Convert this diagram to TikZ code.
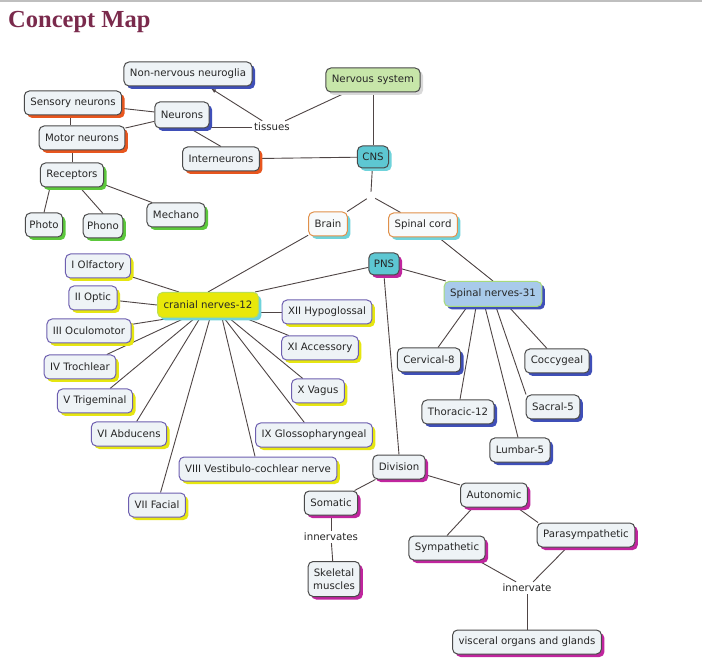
\documentclass[tikz,border=0pt]{standalone}
\usepackage{fontspec}
\setmainfont{Liberation Serif}
\newfontfamily\cmfont{DejaVu Sans}
\usetikzlibrary{shadows,arrows.meta}
\pgfdeclarelayer{background}
\pgfdeclarelayer{paper}
\pgfsetlayers{paper,background,main}
\definecolor{boxfill}{HTML}{EEF3F6}
\definecolor{bordergray}{HTML}{4A4A4A}
\definecolor{shblue}{HTML}{3F4FB8}
\definecolor{shorange}{HTML}{E8561E}
\definecolor{shgreen}{HTML}{5CC83C}
\definecolor{shyellow}{HTML}{E6E610}
\definecolor{shmagenta}{HTML}{C0259E}
\definecolor{shteal}{HTML}{6FD3DB}
\definecolor{purpleb}{HTML}{6E5FB0}
\definecolor{orangeb}{HTML}{E0904A}
\definecolor{nsgreen}{HTML}{C7E6A9}
\definecolor{cnsteal}{HTML}{5DC7D2}
\definecolor{snblue}{HTML}{A8CAEA}
\definecolor{sngreen}{HTML}{A7DA7A}
\definecolor{crnyellow}{HTML}{E8E80A}
\definecolor{titlered}{HTML}{7A2A4C}
\definecolor{linegray}{HTML}{4F4545}
\tikzset{
  cbox/.style={draw=bordergray, line width=1pt, rounded corners=5pt, fill=boxfill,
    font=\cmfont\fontsize{10.2}{11.5}\selectfont, text=black!85, inner xsep=6pt,
    minimum height=24pt, align=center},
  sd/.style={drop shadow={shadow xshift=3pt, shadow yshift=-3pt, opacity=1, fill=#1}},
  lbl/.style={font=\cmfont\fontsize{10.2}{11.5}\selectfont, text=black!85, inner sep=2pt},
  conn/.style={draw=linegray, line width=0.9pt},
}
\begin{document}
\begin{tikzpicture}[x=1pt,y=-1pt]
\useasboundingbox (0,0) rectangle (702,668);
\begin{pgfonlayer}{paper}
\fill[white] (0,0) rectangle (702,668);
\fill[black!25] (0,0) rectangle (702,2);
\end{pgfonlayer}
\node[anchor=base west, inner sep=0pt, text=titlered, font=\bfseries\fontsize{24.5}{27}\selectfont] (title) at (8,28) {Concept Map};

% top cluster
\node[cbox, sd=shblue] (NG) at (188,74) {Non-nervous neuroglia};
\node[cbox, fill=nsgreen, sd=black!15] (NS) at (373,80) {Nervous system};
\node[cbox, sd=shorange] (SensN) at (73,103) {Sensory neurons};
\node[cbox, sd=shblue, minimum height=26pt] (Neu) at (182,115) {Neurons};
\node[lbl] (tis) at (272,127) {tissues};
\node[cbox, sd=shorange] (MotN) at (82,138) {Motor neurons};
\node[cbox, sd=shorange] (IN) at (221,159) {Interneurons};
\node[cbox, fill=cnsteal, sd=shteal, minimum height=22pt, inner xsep=5pt] (CNS) at (373,157) {CNS};
\node[cbox, sd=shgreen] (Rec) at (72,175) {Receptors};
\node[cbox, sd=shgreen] (Mech) at (176,215) {Mechano};
\node[cbox, sd=shgreen, inner xsep=4pt] (Photo) at (44,225) {Photo};
\node[cbox, sd=shgreen, inner xsep=4pt] (Phono) at (103,226) {Phono};
\node[inner sep=0pt, minimum size=8pt] (J) at (371,196) {};
\node[cbox, draw=orangeb, fill=white!60!boxfill, sd=shteal] (Brain) at (328,224) {Brain};
\node[cbox, draw=orangeb, fill=white!60!boxfill, sd=shteal] (SC) at (423,225) {Spinal cord};

% PNS and cranial
\node[cbox, fill=cnsteal, sd=shmagenta, minimum height=22pt, inner xsep=5pt] (PNS) at (384,264) {PNS};
\node[cbox, draw=sngreen, fill=snblue, sd=shblue, minimum height=25pt] (SN) at (493,294) {Spinal nerves-31};
\node[cbox, draw=sngreen!70!crnyellow, fill=crnyellow, sd=shteal, minimum height=25pt] (CRN) at (208,305) {cranial nerves-12};

\tikzset{cr/.style={cbox, draw=purpleb, sd=shyellow}}
\node[cr] (I) at (98,266) {I Olfactory};
\node[cr] (II) at (93,298) {II Optic};
\node[cr] (III) at (89,331) {III Oculomotor};
\node[cr] (IV) at (80,367) {IV Trochlear};
\node[cr] (V) at (95,401) {V Trigeminal};
\node[cr] (VI) at (129,434) {VI Abducens};
\node[cr] (VII) at (157,505) {VII Facial};
\node[cr] (VIII) at (258,469) {VIII Vestibulo-cochlear nerve};
\node[cr] (IX) at (314,435) {IX Glossopharyngeal};
\node[cr] (X) at (318,391) {X Vagus};
\node[cr] (XI) at (320,348) {XI Accessory};
\node[cr] (XII) at (327,312) {XII Hypoglossal};

\tikzset{sp/.style={cbox, sd=shblue}}
\node[sp] (Cerv) at (429,360) {Cervical-8};
\node[sp] (Cocc) at (557,361) {Coccygeal};
\node[sp] (Thor) at (458,412) {Thoracic-12};
\node[sp] (Sacr) at (553,407) {Sacral-5};
\node[sp] (Lumb) at (520,450) {Lumbar-5};

% division
\tikzset{dv/.style={cbox, sd=shmagenta}}
\node[dv] (Div) at (399,467) {Division};
\node[dv] (Som) at (331,503) {Somatic};
\node[lbl] (innvs) at (331,537) {innervates};
\node[dv, minimum height=35pt, inner xsep=5pt] (Skel) at (334,579) {Skeletal\\[1pt]muscles};
\node[dv] (Auto) at (494,495) {Autonomic};
\node[dv] (Symp) at (447,548) {Sympathetic};
\node[dv] (Para) at (586,535) {Parasympathetic};
\node[lbl] (innv) at (527,588) {innervate};
\node[dv] (Visc) at (527,642) {visceral organs and glands};

\begin{pgfonlayer}{background}
\draw[conn] (NS) -- (tis);
\draw[conn, -{Latex[length=5pt,width=4pt]}] (tis) -- ([xshift=23pt,yshift=-2pt]NG.south);
\draw[conn] (tis.west) -- (tis.west -| Neu.east);
\draw[conn] (NS) -- (CNS);
\draw[conn] (IN) -- (CNS);
\draw[conn] ([xshift=8pt]Neu.south) -- (IN.north);
\draw[conn] (Neu) -- (SensN);
\draw[conn] (Neu) -- (MotN);
\draw[conn] ([xshift=-3pt]SensN.south) -- ([xshift=-3pt]SensN.south |- MotN.north);
\draw[conn] (Rec.north) -- (Rec.north |- MotN.south);
\draw[conn] ([xshift=-22pt]Rec.south) -- (Photo.north);
\draw[conn] ([xshift=8pt]Rec.south) -- (Phono.north);
\draw[conn] ([yshift=3pt]Rec.south east) -- ([xshift=-24pt]Mech.north);
\draw[conn] (CNS) -- (J.north);
\draw[conn] (J) -- (Brain);
\draw[conn] (J) -- (SC);
\draw[conn] (Brain) -- (CRN.north);
\draw[conn] (PNS) -- ([xshift=47pt]CRN.north);
\draw[conn] (PNS) -- (SN);
\draw[conn] (SC) -- (SN.north);
\draw[conn] (PNS.south) -- (Div.north);
\draw[conn] ([xshift=-29pt]CRN.north) -- (I);
\draw[conn] (CRN.west) -- (II);
\draw[conn] ([xshift=-36pt]CRN.south) -- (III);
\draw[conn] ([xshift=-23pt]CRN.south) -- (IV);
\draw[conn] ([xshift=-13pt]CRN.south) -- (V);
\draw[conn] ([xshift=-8pt]CRN.south) -- (VI);
\draw[conn] ([xshift=2pt]CRN.south) -- (VII);
\draw[conn] ([xshift=14pt]CRN.south) -- (VIII);
\draw[conn] ([xshift=16pt]CRN.south) -- (IX);
\draw[conn] ([xshift=21pt]CRN.south) -- (X);
\draw[conn] ([xshift=37pt]CRN.south) -- (XI);
\draw[conn] (XII.west) -- (XII.west -| CRN.east);
\draw[conn] ([xshift=-26pt]SN.south) -- ([xshift=9pt]Cerv.north);
\draw[conn] ([xshift=-17pt]SN.south) -- ([xshift=2pt]Thor.north);
\draw[conn] ([xshift=-8pt]SN.south) -- ([xshift=-2pt]Lumb.north);
\draw[conn] ([xshift=3pt]SN.south) -- ([xshift=-27pt]Sacr.north);
\draw[conn] ([xshift=16pt]SN.south) -- ([xshift=-10pt]Cocc.north);
\draw[conn] (Div) -- (Som);
\draw[conn] (Div) -- (Auto);
\draw[conn] (Som) -- (innvs);
\draw[conn] (innvs) -- (Skel);
\draw[conn] ([xshift=-21pt]Auto.south) -- (Symp.north);
\draw[conn] ([xshift=23pt]Auto.south) -- ([xshift=-48pt]Para.north);
\draw[conn] ([xshift=31pt]Symp.south) -- (innv);
\draw[conn] ([xshift=-19pt]Para.south) -- (innv);
\draw[conn] (innv) -- (Visc);
\end{pgfonlayer}
\end{tikzpicture}
\end{document}
